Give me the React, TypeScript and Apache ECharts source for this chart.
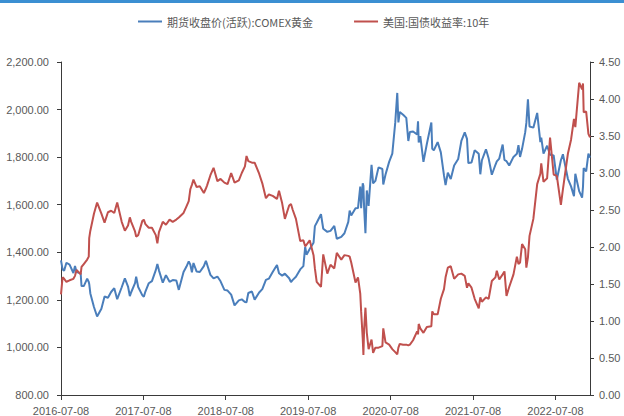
import React, { useEffect, useRef } from "react";
import * as echarts from "echarts";

const seriesNames = ["期货收盘价(活跃):COMEX黄金", "美国:国债收益率:10年"];

const dates = [
  "2016-07-08","2016-07-15","2016-07-22","2016-08-01","2016-08-15","2016-09-01","2016-09-08","2016-09-15",
  "2016-10-03","2016-10-07","2016-10-17","2016-11-01","2016-11-08","2016-11-10","2016-11-15","2016-12-01",
  "2016-12-15","2017-01-03","2017-01-17","2017-02-01","2017-02-15","2017-03-01","2017-03-14","2017-04-03",
  "2017-04-17","2017-05-01","2017-05-09","2017-05-15","2017-06-01","2017-06-06","2017-06-15","2017-07-03",
  "2017-07-10","2017-07-17","2017-08-01","2017-08-15","2017-09-01","2017-09-08","2017-09-15","2017-10-02",
  "2017-10-16","2017-11-01","2017-11-15","2017-12-01","2017-12-12","2018-01-02","2018-01-15","2018-01-25",
  "2018-02-01","2018-02-08","2018-02-15","2018-03-01","2018-03-15","2018-04-02","2018-04-11","2018-04-16",
  "2018-05-01","2018-05-15","2018-06-01","2018-06-15","2018-07-02","2018-07-16","2018-08-01","2018-08-16",
  "2018-09-04","2018-09-17","2018-10-01","2018-10-08","2018-10-16","2018-11-01","2018-11-13","2018-12-03",
  "2018-12-17","2019-01-02","2019-01-15","2019-02-01","2019-02-20","2019-03-01","2019-03-15","2019-03-27",
  "2019-04-15","2019-04-23","2019-05-01","2019-05-15","2019-06-03","2019-06-17","2019-06-25","2019-07-01",
  "2019-07-15","2019-08-01","2019-08-07","2019-08-15","2019-09-03","2019-09-13","2019-10-01","2019-10-15",
  "2019-11-01","2019-11-12","2019-12-02","2019-12-16","2020-01-02","2020-01-08","2020-01-15","2020-02-03",
  "2020-02-14","2020-02-24","2020-02-28","2020-03-06","2020-03-09","2020-03-12","2020-03-18","2020-03-24",
  "2020-04-01","2020-04-14","2020-04-21","2020-05-01","2020-05-15","2020-06-01","2020-06-05","2020-06-15",
  "2020-07-01","2020-07-15","2020-07-28","2020-08-06","2020-08-11","2020-08-17","2020-09-01","2020-09-15",
  "2020-09-24","2020-10-01","2020-10-15","2020-11-02","2020-11-06","2020-11-09","2020-11-16","2020-11-30",
  "2020-12-15","2021-01-04","2021-01-08","2021-01-15","2021-02-01","2021-02-15","2021-03-01","2021-03-08",
  "2021-03-18","2021-03-31","2021-04-15","2021-05-03","2021-05-17","2021-06-01","2021-06-11","2021-06-17",
  "2021-07-01","2021-07-15","2021-08-02","2021-08-09","2021-08-16","2021-09-03","2021-09-15","2021-09-29",
  "2021-10-15","2021-10-21","2021-11-01","2021-11-16","2021-11-24","2021-12-03","2021-12-15","2022-01-03",
  "2022-01-18","2022-01-25","2022-02-01","2022-02-10","2022-02-24","2022-03-01","2022-03-08","2022-03-15",
  "2022-04-01","2022-04-18","2022-05-02","2022-05-06","2022-05-16","2022-06-01","2022-06-14","2022-06-30",
  "2022-07-14","2022-08-01","2022-08-10","2022-09-01","2022-09-15","2022-09-28","2022-10-04","2022-10-21",
  "2022-11-03","2022-11-07","2022-11-10","2022-11-21","2022-12-01","2022-12-08"
];

const goldPrice = [
  1366,1328,1323,1356,1348,1313,1342,1317,
  1312,1258,1258,1289,1275,1267,1227,1170,
  1130,1163,1214,1209,1233,1249,1203,1253,
  1290,1256,1216,1232,1270,1297,1254,1220,
  1213,1235,1270,1279,1325,1351,1324,1272,
  1304,1276,1283,1281,1242,1317,1340,1362,
  1348,1316,1355,1319,1317,1342,1364,1350,
  1305,1290,1298,1278,1242,1239,1222,1177,
  1198,1202,1191,1190,1229,1235,1201,1231,
  1245,1284,1289,1317,1347,1312,1302,1310,
  1291,1275,1284,1297,1328,1342,1423,1390,
  1414,1440,1510,1524,1560,1499,1486,1490,
  1511,1457,1465,1480,1528,1575,1555,1585,
  1586,1676,1585,1690,1680,1590,1480,1660,
  1595,1768,1690,1700,1757,1750,1685,1727,
  1780,1815,1945,2070,1946,1990,1978,1965,
  1868,1906,1908,1895,1951,1862,1888,1780,
  1855,1946,1835,1829,1863,1820,1723,1683,
  1735,1708,1765,1792,1868,1904,1877,1775,
  1777,1829,1814,1728,1787,1833,1794,1726,
  1768,1782,1794,1853,1788,1783,1765,1801,
  1814,1850,1801,1835,1905,1944,2043,1929,
  1924,1986,1863,1882,1815,1848,1810,1807,
  1705,1787,1812,1709,1677,1636,1730,1657,
  1630,1676,1754,1740,1815,1798
];

const treasury10y = [
  1.36,1.59,1.57,1.53,1.55,1.57,1.61,1.69,
  1.63,1.73,1.77,1.83,1.87,2.12,2.22,2.45,
  2.60,2.45,2.33,2.47,2.49,2.46,2.60,2.34,
  2.22,2.29,2.40,2.34,2.21,2.14,2.16,2.35,
  2.37,2.31,2.26,2.26,2.16,2.05,2.20,2.34,
  2.30,2.37,2.34,2.37,2.40,2.46,2.55,2.62,
  2.78,2.84,2.91,2.81,2.82,2.73,2.79,2.83,
  2.97,3.07,2.89,2.92,2.87,2.85,3.00,2.87,
  2.90,3.00,3.09,3.23,3.16,3.14,3.14,2.99,
  2.86,2.66,2.71,2.69,2.65,2.76,2.59,2.38,
  2.56,2.58,2.50,2.38,2.08,2.09,2.01,2.03,
  2.09,1.89,1.71,1.53,1.46,1.90,1.64,1.76,
  1.71,1.92,1.83,1.89,1.88,1.87,1.79,1.52,
  1.59,1.37,1.13,0.76,0.54,0.88,1.18,0.84,
  0.62,0.75,0.57,0.64,0.64,0.66,0.90,0.71,
  0.68,0.62,0.58,0.55,0.64,0.69,0.68,0.68,
  0.67,0.68,0.74,0.86,0.82,0.96,0.90,0.84,
  0.92,0.93,1.13,1.09,1.09,1.30,1.43,1.59,
  1.72,1.74,1.57,1.63,1.64,1.61,1.45,1.51,
  1.45,1.30,1.17,1.32,1.26,1.32,1.30,1.54,
  1.59,1.68,1.56,1.63,1.67,1.34,1.46,1.63,
  1.87,1.77,1.79,2.04,1.97,1.72,1.86,2.15,
  2.38,2.85,2.99,3.13,2.88,2.93,3.48,2.98,
  2.96,2.57,2.78,3.26,3.45,3.73,3.62,4.22,
  4.13,4.21,3.82,3.83,3.53,3.48
];

const xTickLabels = [
  "2016-07-08","2017-07-08","2018-07-08","2019-07-08","2020-07-08","2021-07-08","2022-07-08"
];
const xStart = "2016-07-08";
const xEnd = "2022-12-08";

function parseDay(s: string): number {
  const [y, m, d] = s.split("-").map(Number);
  return Date.UTC(y, m - 1, d);
}
function pad(n: number) {
  return n < 10 ? "0" + n : "" + n;
}
function fmtDay(v: number) {
  const d = new Date(v);
  return d.getUTCFullYear() + "-" + pad(d.getUTCMonth() + 1) + "-" + pad(d.getUTCDate());
}

export default function App() {
  const ref = useRef<HTMLDivElement>(null);
  useEffect(() => {
    if (!ref.current) return;
    const chart = echarts.init(ref.current, null, { renderer: "svg" });
    const tickVals = xTickLabels.map(parseDay);
    const labelFont = {
      color: "#595959",
      fontSize: 11,
      fontFamily: "Liberation Sans, Arial, sans-serif",
    };
    const axisLine = { show: true, onZero: false, lineStyle: { color: "#3a3a3a", width: 1 } };
    chart.setOption({
      animation: false,
      backgroundColor: "#ffffff",
      graphic: [
        {
          type: "rect",
          left: 0,
          top: 0,
          shape: { width: 624, height: 3 },
          style: { fill: "#3b8fd2" },
        },
      ],
      legend: {
        left: 133,
        top: 11,
        itemWidth: 24,
        itemHeight: 2,
        itemGap: 41,
        icon: "rect",
        textStyle: {
          color: "#595959",
          fontSize: 11,
          fontFamily: "Microsoft YaHei, Noto Sans CJK SC, sans-serif",
        },
        data: seriesNames,
      },
      grid: { left: 61, right: 34, top: 62, bottom: 8, containLabel: false },
      xAxis: {
        type: "value",
        min: parseDay(xStart),
        max: parseDay(xEnd),
        axisLine,
        axisTick: { show: true, length: 5, lineStyle: { color: "#3a3a3a" }, customValues: tickVals },
        axisLabel: {
          ...labelFont,
          margin: 10,
          customValues: tickVals,
          formatter: (v: number) => fmtDay(v),
        },
        splitLine: { show: false },
      },
      yAxis: [
        {
          type: "value",
          min: 800,
          max: 2200,
          interval: 200,
          axisLine,
          axisTick: { show: true, length: 4, lineStyle: { color: "#3a3a3a" } },
          axisLabel: {
            ...labelFont,
            margin: 12,
            formatter: (v: number) =>
              v.toLocaleString("en-US", { minimumFractionDigits: 2, maximumFractionDigits: 2 }),
          },
          splitLine: { show: false },
        },
        {
          type: "value",
          min: 0,
          max: 4.5,
          interval: 0.5,
          position: "right",
          axisLine,
          axisTick: { show: true, length: 4, lineStyle: { color: "#3a3a3a" } },
          axisLabel: {
            ...labelFont,
            margin: 9,
            formatter: (v: number) => v.toFixed(2),
          },
          splitLine: { show: false },
        },
      ],
      series: [
        {
          name: seriesNames[0],
          type: "line",
          yAxisIndex: 0,
          showSymbol: false,
          symbol: "none",
          color: "#4a7ebb",
          lineStyle: { width: 2, color: "#4a7ebb" },
          data: dates.map((d, i) => [parseDay(d), goldPrice[i]]),
        },
        {
          name: seriesNames[1],
          type: "line",
          yAxisIndex: 1,
          showSymbol: false,
          symbol: "none",
          color: "#c0504d",
          lineStyle: { width: 2, color: "#c0504d" },
          data: dates.map((d, i) => [parseDay(d), treasury10y[i]]),
        },
      ],
    });
    return () => chart.dispose();
  }, []);
  return (
    <div
      ref={ref}
      style={{ position: "fixed", left: 0, top: 0, width: 624, height: 416 }}
    />
  );
}
